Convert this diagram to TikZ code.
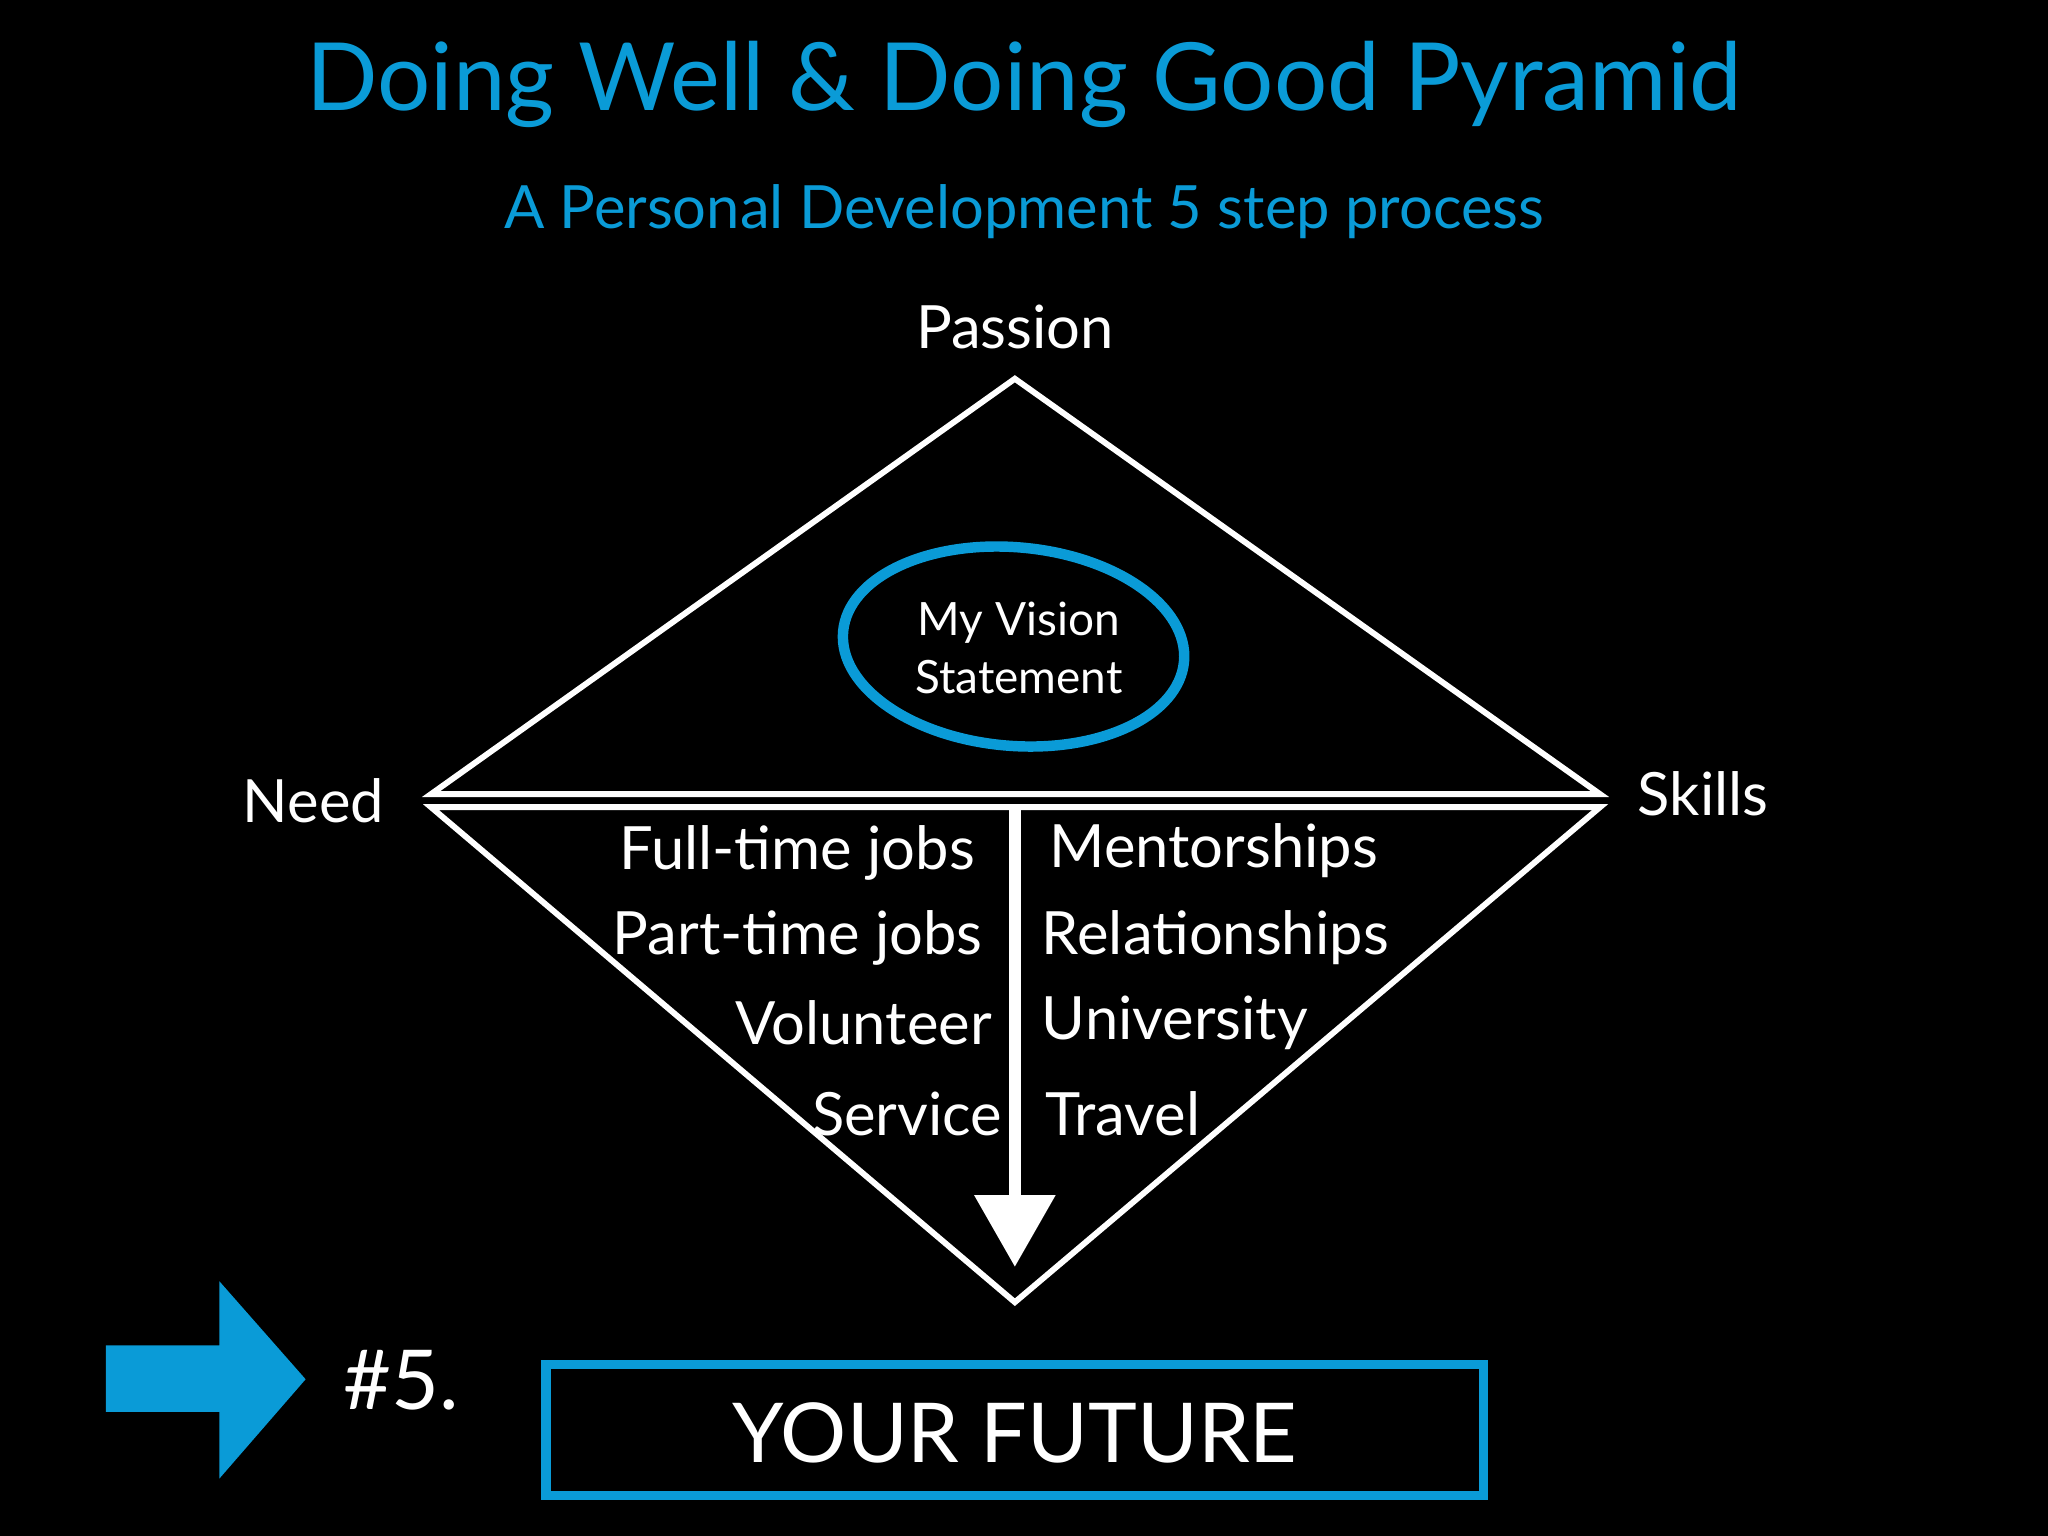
\documentclass[tikz,border=0pt]{standalone}
\usepackage{fontspec}
\setmainfont{Lato}
\usetikzlibrary{arrows.meta}
\definecolor{myblue}{HTML}{0A9BD7}
\tikzset{wl/.style={draw=white,line width=0.45mm,line join=miter},
 lbl/.style={text=white,font=\fontsize{13}{15}\selectfont,inner sep=0pt}}
\begin{document}
\begin{tikzpicture}[y=-1cm]
\fill[black] (0,0) rectangle (15.68,11.76);
\useasboundingbox (0,0) rectangle (15.68,11.76);
\node[text=myblue,font=\fontsize{20.5}{24}\selectfont] (title) at (7.84,0.65) {Doing Well \& Doing Good Pyramid};
\node[text=myblue,font=\fontsize{13}{16}\selectfont] (sub) at (7.84,1.62) {A Personal Development 5 step process};
\coordinate (ap) at (7.77,2.90);
\coordinate (ul) at (3.30,6.08);
\coordinate (ur) at (12.25,6.08);
\coordinate (ll) at (3.30,6.18);
\coordinate (lr) at (12.25,6.18);
\coordinate (bt) at (7.77,9.97);
\draw[wl] (ap) -- (ur) -- (ul) -- cycle;
\draw[wl] (ll) -- (lr) -- (bt) -- cycle;
\coordinate (as) at (7.77,6.18);
\coordinate (ae) at (7.77,9.70);
\draw[white,line width=0.9mm,-{Triangle[length=5.5mm,width=6mm]}] (as) -- (ae);
\draw[myblue,line width=0.8mm,rotate around={-5:(7.76,4.95)}] (7.76,4.95) ellipse (1.31 and 0.76);
\node[lbl,font=\fontsize{10}{12.5}\selectfont,align=center] (vis) at (7.80,4.96) {My Vision\\Statement};
\node[lbl] (pass) at (7.77,2.50) {Passion};
\node[lbl] (need) at (2.40,6.13) {Need};
\node[lbl] (sk) at (13.04,6.08) {Skills};
\node[lbl,anchor=east] (l1) at (7.47,6.53) {Full-time jobs};
\node[lbl,anchor=east] (l2) at (7.53,7.18) {Part-time jobs};
\node[lbl,anchor=east] (l3) at (7.60,7.83) {Volunteer};
\node[lbl,anchor=east] (l4) at (7.68,8.53) {Service};
\node[lbl,anchor=west] (r1) at (8.03,6.51) {Mentorships};
\node[lbl,anchor=west] (r2) at (7.97,7.18) {Relationships};
\node[lbl,anchor=west] (r3) at (7.97,7.83) {University};
\node[lbl,anchor=west] (r4) at (8.00,8.53) {Travel};
\fill[myblue] (0.81,10.30) -- (1.68,10.30) -- (1.68,9.81) -- (2.34,10.56) -- (1.68,11.32) -- (1.68,10.81) -- (0.81,10.81) -- cycle;
\node[lbl,font=\fontsize{18}{22}\selectfont] (n5) at (3.07,10.57) {\#5.};
\draw[myblue,line width=0.7mm] (4.18,10.45) rectangle (11.36,11.45);
\node[lbl,font=\fontsize{18}{22}\selectfont] (yf) at (7.77,10.97) {YOUR FUTURE};
\end{tikzpicture}
\end{document}
